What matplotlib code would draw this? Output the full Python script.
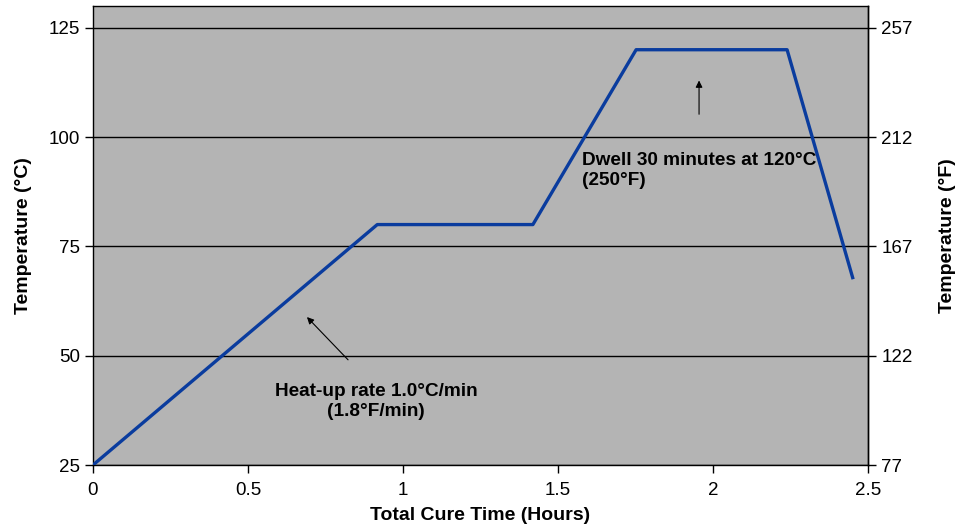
import matplotlib
matplotlib.use("Agg")

import matplotlib.pyplot as plt
import numpy as np

# cure profile (hours, deg C)
time_h = [0.0, 0.917, 1.419, 1.752, 2.239, 2.452]
temp_c = [25, 80, 80, 120, 120, 67.5]

c_ticks = [25, 50, 75, 100, 125]
f_ticks = [77, 122, 167, 212, 257]
x_ticks = [0, 0.5, 1, 1.5, 2, 2.5]
x_labels = ['0', '0.5', '1', '1.5', '2', '2.5']

plt.rcParams['font.family'] = ['Liberation Sans', 'DejaVu Sans']


def c_to_f(c):
    return np.asarray(c) * 1.8 + 32


def f_to_c(f):
    return (np.asarray(f) - 32) / 1.8


fig = plt.figure(figsize=(9.6, 5.27), dpi=100)
ax = fig.add_axes([93 / 960, 1 - 465 / 527, 775 / 960, 459 / 527])
ax.set_facecolor('#b4b4b4')

for c in c_ticks:
    ax.axhline(c, color='black', lw=1, zorder=1)

ax.plot(time_h, temp_c, color='#0a3c9e', lw=2.4, zorder=3, solid_capstyle='butt')

ax.set_xlim(0, 2.5)
ax.set_ylim(25, 130)
ax.set_xticks(x_ticks)
ax.set_xticklabels(x_labels)
ax.set_yticks(c_ticks)
ax.tick_params(axis='both', labelsize=13.5, length=6, width=1, direction='out', color='black')
ax.tick_params(axis='x', pad=6)

for s in ax.spines.values():
    s.set_color('black')
    s.set_linewidth(1)

ax.set_xlabel('Total Cure Time (Hours)', fontsize=14, fontweight='bold', labelpad=6)
ax.set_ylabel('Temperature (°C)', fontsize=14, fontweight='bold', labelpad=12)

sec = ax.secondary_yaxis('right', functions=(c_to_f, f_to_c))
sec.set_yticks(f_ticks)
sec.tick_params(labelsize=13.5, length=6, width=1, direction='out')
sec.set_ylabel('Temperature (°F)', fontsize=14, fontweight='bold', labelpad=19)
sec.spines['right'].set_linewidth(1)

ax.text(0.913, 39.6, 'Heat-up rate 1.0°C/min\n(1.8°F/min)', ha='center', va='center',
        fontsize=13.7, fontweight='bold', linespacing=1.25)
ax.annotate('', xy=(0.684, 59.3), xytext=(0.829, 48.6),
            arrowprops=dict(arrowstyle='-|>', color='black', lw=0.8, mutation_scale=10))

ax.text(1.577, 92.3, 'Dwell 30 minutes at 120°C\n(250°F)', ha='left', va='center',
        fontsize=13.7, fontweight='bold', linespacing=1.25)
ax.annotate('', xy=(1.955, 113.6), xytext=(1.955, 104.6),
            arrowprops=dict(arrowstyle='-|>', color='black', lw=0.8, mutation_scale=10))

plt.savefig('out.png', dpi=100)
